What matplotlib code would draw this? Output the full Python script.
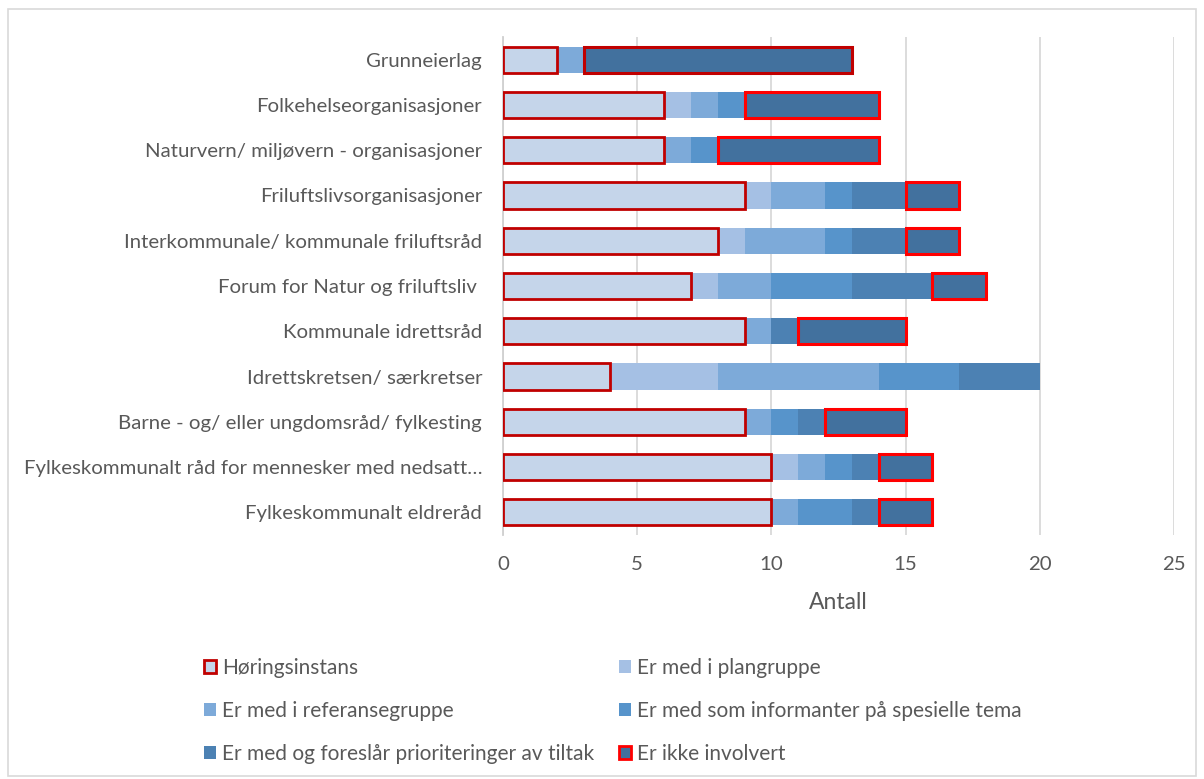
import matplotlib.pyplot as plt
from matplotlib.patches import Patch, Rectangle
import numpy as np

plt.rcParams['font.family'] = ['Lato', 'DejaVu Sans']

# Kategorier, ovenfra og ned
kategorier = [
    "Grunneierlag",
    "Folkehelseorganisasjoner",
    "Naturvern/ miljøvern - organisasjoner",
    "Friluftslivsorganisasjoner",
    "Interkommunale/ kommunale friluftsråd",
    "Forum for Natur og friluftsliv ",
    "Kommunale idrettsråd",
    "Idrettskretsen/ særkretser",
    "Barne - og/ eller ungdomsråd/ fylkesting",
    "Fylkeskommunalt råd for mennesker med nedsatt…",
    "Fylkeskommunalt eldreråd",
]

horingsinstans = [2, 6, 6, 9, 8, 7, 9, 4, 9, 10, 10]
plangruppe = [0, 1, 0, 1, 1, 1, 0, 4, 0, 1, 0]
referansegruppe = [1, 1, 1, 2, 3, 2, 1, 6, 1, 1, 1]
informanter = [0, 1, 1, 1, 1, 3, 0, 3, 1, 1, 2]
prioriteringer = [0, 0, 0, 2, 2, 3, 1, 3, 1, 1, 1]
ikke_involvert = [10, 5, 6, 2, 2, 2, 4, 0, 3, 2, 2]

serier = [
    ("Høringsinstans", horingsinstans, "#c5d5ea"),
    ("Er med i plangruppe", plangruppe, "#a5c0e4"),
    ("Er med i referansegruppe", referansegruppe, "#7daad9"),
    ("Er med som informanter på spesielle tema", informanter, "#5794cb"),
    ("Er med og foreslår prioriteringer av tiltak", prioriteringer, "#4c81b3"),
    ("Er ikke involvert", ikke_involvert, "#42719e"),
]

tekstfarge = "#595959"

fig = plt.figure(figsize=(12.04, 7.79), dpi=100)
ax = fig.add_axes([503 / 1204, 1 - 535 / 779, (1174 - 503) / 1204, (535 - 37) / 779])

y = np.arange(len(kategorier))
venstre = np.zeros(len(kategorier))
for navn, verdier, farge in serier:
    verdier = np.array(verdier, dtype=float)
    if navn == "Høringsinstans":
        ax.barh(y, verdier, left=venstre, height=0.58, color=farge,
                edgecolor="#c00000", linewidth=2.0, zorder=4)
    elif navn == "Er ikke involvert":
        kanter = ["#c00000" if i == 0 else "#ff0000" for i in range(len(verdier))]
        bredder = [2.2 if v > 0 else 0 for v in verdier]
        ax.barh(y, verdier, left=venstre, height=0.58, color=farge,
                edgecolor=kanter, linewidth=bredder, zorder=4)
    else:
        ax.barh(y, verdier, left=venstre, height=0.58, color=farge,
                linewidth=0, zorder=3)
    venstre += verdier

ax.set_xlim(0, 25)
ax.set_ylim(-0.5, len(kategorier) - 0.5)
ax.invert_yaxis()
ax.set_xticks([0, 5, 10, 15, 20, 25])
ax.set_yticks(y)
ax.set_yticklabels(kategorier)
ax.tick_params(axis="both", length=0, colors=tekstfarge, labelsize=14.7)
ax.tick_params(axis="y", pad=15)
ax.tick_params(axis="x", pad=15)
ax.set_xlabel("Antall", fontsize=16.5, color=tekstfarge, labelpad=14)

ax.grid(axis="x", color="#d9d9d9", linewidth=1.3, zorder=0)
ax.set_axisbelow(True)
for side in ["top", "right", "bottom"]:
    ax.spines[side].set_visible(False)
ax.spines["left"].set_color("#d0d0d0")
ax.spines["left"].set_linewidth(1.3)
ax.spines["left"].set_zorder(2)

# legende i to kolonner
handles = []
for navn, verdier, farge in serier:
    if navn == "Høringsinstans":
        handles.append(Patch(facecolor=farge, edgecolor="#c00000", linewidth=2.0, label=navn))
    elif navn == "Er ikke involvert":
        handles.append(Patch(facecolor=farge, edgecolor="#ff0000", linewidth=2.0, label=navn))
    else:
        handles.append(Patch(facecolor=farge, edgecolor="none", label=navn))

leg_opts = dict(loc="upper left", frameon=False, fontsize=15, handlelength=0.58,
                handleheight=0.58, handletextpad=0.3, labelspacing=1.1,
                borderpad=0, borderaxespad=0, labelcolor=tekstfarge)
fig.legend(handles=handles[0::2], bbox_to_anchor=(204 / 1204, 1 - 658 / 779), **leg_opts)
fig.legend(handles=handles[1::2], bbox_to_anchor=(619 / 1204, 1 - 658 / 779), **leg_opts)

fig.patches.append(Rectangle((8 / 1204, 3 / 779), 1188 / 1204, 767 / 779,
                             transform=fig.transFigure, fill=False,
                             edgecolor="#d9d9d9", linewidth=1.2))

fig.savefig("out.png", dpi=100)
